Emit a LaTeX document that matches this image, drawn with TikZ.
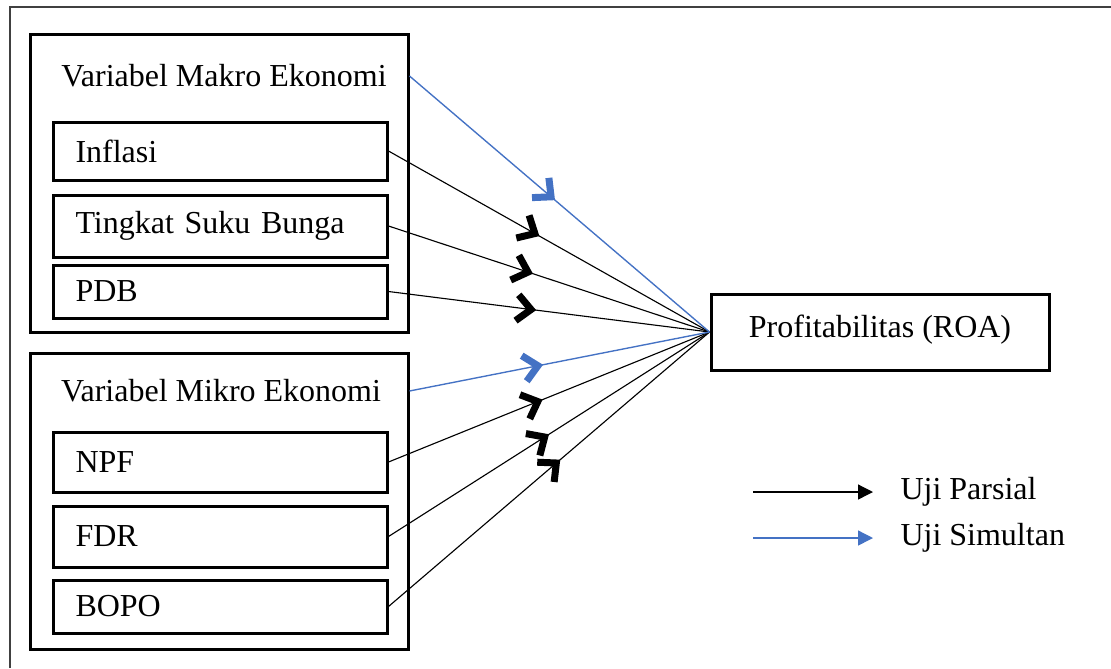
\documentclass[tikz,border=0pt]{standalone}
\usepackage{fontspec}
\setmainfont{Liberation Serif}
\usepackage{tikz}
\usetikzlibrary{positioning,fit,arrows.meta,decorations.markings}
\definecolor{simblue}{RGB}{68,114,196}

\begin{document}
\begin{tikzpicture}[
    x=0.4pt, y=-0.4pt,
    every node/.style={font=\fontsize{12.8}{15}\selectfont},
    chev/.tip={Straight Barb[length=5.6pt,width=10.4pt,line width=2.8pt,line cap=butt,line join=miter]},
    grp/.style={draw,line width=1.2pt,inner sep=0pt},
    var/.style={draw,line width=1.2pt,anchor=west,inner xsep=9pt,text width=115.6pt,align=left},
    parsial/.style={color=black,line width=0.45pt},
    simultan/.style={color=simblue,line width=0.55pt},
    midtip/.style={postaction={decorate},decoration={markings,mark=at position #1 with {\arrow{chev}}}},
  ]
  \useasboundingbox (0,0) rectangle (1111,668);
  \draw[black!75,line width=0.9pt] (10,668) -- (10,7) -- (1111,7);

  \node[grp, fit={(30,34) (408,332)}] (makro) {};
  \node[grp, fit={(30,353) (408,649)}] (mikro) {};
  \node (makrolbl) at (224,76) {Variabel Makro Ekonomi};
  \node (mikrolbl) at (221,391) {Variabel Mikro Ekonomi};

  \foreach \nm/\txt/\yc/\hh in {inflasi/Inflasi/151/23.2, suku/Tingkat Suku Bunga/226/24.8, pdb/PDB/291.5/21.2,
      npf/NPF/462/24, fdr/FDR/536.5/24.4, bopo/BOPO/606.5/21.2} {
    \node[var, minimum height=\hh pt] (\nm) at (51.5,\yc) {\txt};
  }

  \node[draw,line width=1.2pt,minimum width=135.2pt,minimum height=30.4pt,text depth=4.5pt] (roa) at (880,332) {Profitabilitas (ROA)};

  \foreach \nm/\p in {inflasi/0.47, suku/0.45, pdb/0.46, npf/0.48, fdr/0.5, bopo/0.535} {
    \draw[parsial, midtip=\p] (\nm.east) -- (roa.west);
  }
  \draw[simultan, midtip=0.485] (makro.east |- makrolbl) -- (roa.west);
  \draw[simultan, midtip=0.445] (mikro.east |- mikrolbl) -- (roa.west);

  % legend
  \coordinate (pstart) at (753,492);
  \coordinate (sstart) at (753,538);
  \node[anchor=west, inner sep=0pt] (parsiallbl) at (900,492) {Uji Parsial};
  \node[anchor=west, inner sep=0pt] (simultanlbl) at (900,538) {Uji Simultan};
  \draw[parsial, line width=0.5pt, -{Triangle[length=6pt,width=6pt]}, shorten >=10.8pt] (pstart) -- (pstart -| parsiallbl.west);
  \draw[simultan, -{Triangle[length=6pt,width=6pt]}, shorten >=10.8pt] (sstart) -- (sstart -| simultanlbl.west);
\end{tikzpicture}
\end{document}
